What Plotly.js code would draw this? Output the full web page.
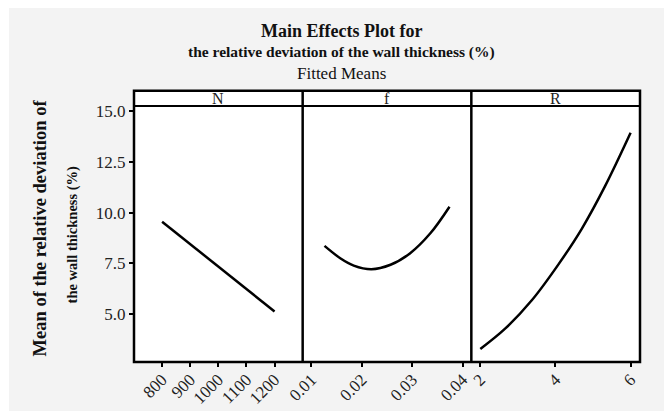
<!DOCTYPE html>
<html>
<head>
<meta charset="utf-8">
<script src="https://cdn.plot.ly/plotly-3.0.1.min.js"></script>
<style>
  html, body { margin: 0; padding: 0; background: #ffffff; }
  #chart { position: absolute; left: 9px; top: 8px; width: 655px; height: 403px; }
</style>
</head>
<body>
<div id="chart"></div>
<script>
// ---- data ----
const panelNames = ["N", "f", "R"];

const N_levels = [800, 1000, 1200];
const N_means  = [9.55, 7.34, 5.13];

const f_levels = [0.0126, 0.0158, 0.0184, 0.0219, 0.0257, 0.0296, 0.0336, 0.0374];
const f_means  = [8.36, 7.74, 7.39, 7.21, 7.43, 8.00, 8.98, 10.29];

const R_levels = [2.0, 2.66, 3.37, 4.08, 4.70, 5.32, 6.0];
const R_means  = [3.28, 4.28, 5.68, 7.45, 9.20, 11.30, 13.93];

const N_ticks = [800, 900, 1000, 1100, 1200];
const f_ticks = [0.01, 0.02, 0.03, 0.04];
const f_tickText = ["0.01", "0.02", "0.03", "0.04"];
const R_ticks = [2, 4, 6];
const y_ticks = [5, 7.5, 10, 12.5, 15];
const y_tickText = ["5.0", "7.5", "10.0", "12.5", "15.0"];

const titleMain = "Main Effects Plot for";
const titleSub = "the relative deviation of the wall thickness (%)";
const titleFit = "Fitted Means";
const yTitle1 = "Mean of the relative deviation of";
const yTitle2 = "the wall thickness (%)";

// ---- layout geometry (page pixels -> paper) ----
const OX = 9, OY = 8;
const W = 655, H = 403;
const ML = 124.5, MR = 24, MT = 98, MB = 48.7;
const PW = W - ML - MR, PH = H - MT - MB;
const px = x => (x - OX - ML) / PW;
const py = y => 1 - (y - OY - MT) / PH;

const serif = "Liberation Serif, Times New Roman, serif";
const lineStyle = { color: "#000000", width: 2.5 };

const traces = [
  { x: N_levels, y: N_means, xaxis: "x", yaxis: "y", mode: "lines", line: lineStyle },
  { x: f_levels, y: f_means, xaxis: "x2", yaxis: "y2", mode: "lines", line: Object.assign({shape: "spline", smoothing: 1}, lineStyle) },
  { x: R_levels, y: R_means, xaxis: "x3", yaxis: "y3", mode: "lines", line: Object.assign({shape: "spline", smoothing: 1}, lineStyle) }
];

const tickFont = { family: serif, size: 17, color: "#222222" };
function xAxis(domain, anchor, range, tickvals, ticktext) {
  const ax = {
    domain: domain, anchor: anchor, range: range,
    tickmode: "array", tickvals: tickvals,
    tickangle: -45, tickfont: tickFont, ticklabelstandoff: -4,
    ticks: "outside", ticklen: 4, tickwidth: 2, tickcolor: "#000",
    showline: false, showgrid: false, zeroline: false, fixedrange: true
  };
  if (ticktext) ax.ticktext = ticktext;
  return ax;
}
function yAxis(anchor, showLabels) {
  return {
    anchor: anchor, domain: [0, 1], range: [2.64, 15.25],
    tickmode: "array", tickvals: y_ticks, ticktext: y_tickText,
    showticklabels: showLabels, tickfont: tickFont,
    ticks: showLabels ? "outside" : "", ticklen: 4, tickwidth: 2, tickcolor: "#000",
    showline: false, showgrid: false, zeroline: false, fixedrange: true
  };
}

const third = 1 / 3;
const domains = [[0, third], [third, 2 * third], [2 * third, 1]];
const stripTop = 1 + (106 - 90.7) / PH;

const frame = { color: "#000", width: 2.5 };
const shapes = [
  { type: "rect", xref: "paper", yref: "paper", x0: 0, x1: 1, y0: 1, y1: stripTop,
    fillcolor: "#ffffff", line: { width: 0 }, layer: "above" },
  { type: "rect", xref: "paper", yref: "paper", x0: 0, x1: 1, y0: 0, y1: stripTop,
    line: frame, layer: "above" },
  { type: "line", xref: "paper", yref: "paper", x0: 0, x1: 1, y0: 1, y1: 1,
    line: { color: "#000", width: 2 }, layer: "above" },
  { type: "line", xref: "paper", yref: "paper", x0: third, x1: third, y0: 0, y1: stripTop,
    line: frame, layer: "above" },
  { type: "line", xref: "paper", yref: "paper", x0: 2 * third, x1: 2 * third, y0: 0, y1: stripTop,
    line: frame, layer: "above" }
];

const annotations = [];
panelNames.forEach((nm, i) => {
  const d = domains[i];
  annotations.push({
    xref: "paper", yref: "paper", x: (d[0] + d[1]) / 2, y: (1 + stripTop) / 2,
    text: nm, showarrow: false, xanchor: "center", yanchor: "middle",
    font: { family: serif, size: 16, color: "#222" }
  });
});
annotations.push(
  { xref: "paper", yref: "paper", x: px(341), y: py(31), text: "<b>" + titleMain + "</b>",
    showarrow: false, xanchor: "center", yanchor: "middle", font: { family: serif, size: 18, color: "#111" } },
  { xref: "paper", yref: "paper", x: px(341), y: py(52), text: "<b>" + titleSub + "</b>",
    showarrow: false, xanchor: "center", yanchor: "middle", font: { family: serif, size: 15.5, color: "#111" } },
  { xref: "paper", yref: "paper", x: px(341), y: py(73), text: titleFit,
    showarrow: false, xanchor: "center", yanchor: "middle", font: { family: serif, size: 17, color: "#111" } },
  { xref: "paper", yref: "paper", x: px(39), y: py(228), text: "<b>" + yTitle1 + "</b>", textangle: -90,
    showarrow: false, xanchor: "center", yanchor: "middle", font: { family: serif, size: 18.5, color: "#111" } },
  { xref: "paper", yref: "paper", x: px(72), y: py(235), text: "<b>" + yTitle2 + "</b>", textangle: -90,
    showarrow: false, xanchor: "center", yanchor: "middle", font: { family: serif, size: 14.5, color: "#111" } }
);

const layout = {
  width: W, height: H,
  margin: { l: ML, r: MR, t: MT, b: MB, pad: 0 },
  paper_bgcolor: "#f3f3f3", plot_bgcolor: "#ffffff",
  showlegend: false,
  xaxis: xAxis(domains[0], "y", [700, 1300], N_ticks),
  xaxis2: xAxis(domains[1], "y2", [0.00827, 0.04173], f_ticks, f_tickText),
  xaxis3: xAxis(domains[2], "y3", [1.761, 6.25], R_ticks),
  yaxis: yAxis("x", true),
  yaxis2: Object.assign(yAxis("x2", false), { matches: "y" }),
  yaxis3: Object.assign(yAxis("x3", false), { matches: "y" }),
  shapes: shapes,
  annotations: annotations
};

Plotly.newPlot("chart", traces, layout, { displayModeBar: false, staticPlot: true });
</script>
</body>
</html>
